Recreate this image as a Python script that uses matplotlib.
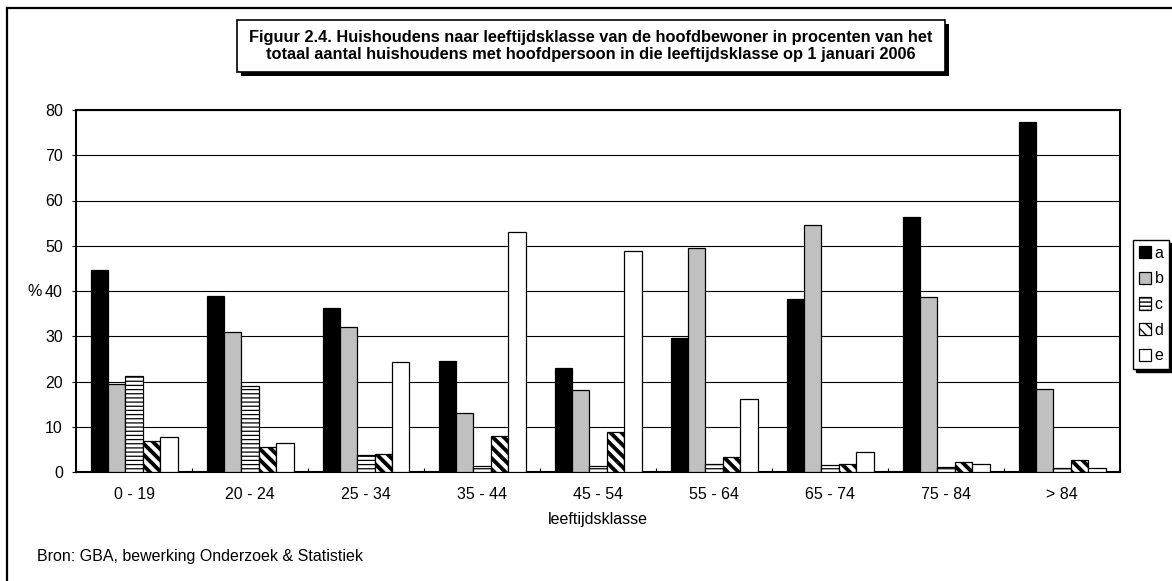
# Huishoudens naar leeftijdsklasse, 1 januari 2006
import numpy as np
import matplotlib
matplotlib.use("Agg")
import matplotlib.pyplot as plt
from matplotlib.patches import Rectangle
from matplotlib.lines import Line2D

plt.rcParams["font.family"] = ["Liberation Sans", "DejaVu Sans"]

categories = ["0 - 19", "20 - 24", "25 - 34", "35 - 44", "45 - 54",
              "55 - 64", "65 - 74", "75 - 84", "> 84"]
series_names = ["a", "b", "c", "d", "e"]
a = [44.6, 38.9, 36.2, 24.5, 23.0, 29.6, 38.2, 56.4, 77.3]
b = [19.5, 30.9, 32.0, 13.0, 18.1, 49.5, 54.6, 38.7, 18.3]
c = [21.2, 19.1, 3.8, 1.3, 1.3, 1.8, 1.5, 1.1, 0.9]
d = [6.8, 5.6, 4.0, 8.0, 8.8, 3.3, 1.8, 2.2, 2.7]
e = [7.8, 6.3, 24.3, 53.0, 48.8, 16.1, 4.4, 1.8, 0.9]

title = ("Figuur 2.4. Huishoudens naar leeftijdsklasse van de hoofdbewoner in procenten van het\n"
         "totaal aantal huishoudens met hoofdpersoon in die leeftijdsklasse op 1 januari 2006")
source = "Bron: GBA, bewerking Onderzoek & Statistiek"

W, H = 1172, 581


def fx(px):
    return px / W


def fy(py):
    return 1 - py / H


def main():
    fig = plt.figure(figsize=(W / 100, H / 100), dpi=100)
    ax = fig.add_axes([fx(76), fy(472), fx(1120) - fx(76), fy(110) - fy(472)])

    styles = [
        dict(color="black"),
        dict(color="#c0c0c0"),
        dict(color="white", hatch="----"),
        dict(color="white", hatch="\\\\\\"),
        dict(color="white"),
    ]
    hatch_lw = [1.0, 1.0, 0.9, 2.8, 1.0]

    x = np.arange(len(categories))
    width = 0.15
    handles = []
    for i, (vals, st) in enumerate(zip([a, b, c, d, e], styles)):
        plt.rcParams["hatch.linewidth"] = hatch_lw[i]
        bars = ax.bar(x + (i - 2) * width, vals, width, facecolor=st["color"],
                      edgecolor="black", linewidth=0.9, hatch=st.get("hatch"),
                      label=series_names[i], zorder=3)
        for p in bars:
            if hasattr(p, "set_hatch_linewidth"):
                p.set_hatch_linewidth(hatch_lw[i])
        handles.append(bars)

    ax.set_xlim(-0.5, len(categories) - 0.5)
    ax.set_ylim(0, 80)
    ax.set_yticks(range(0, 81, 10))
    ax.yaxis.grid(True, color="black", linewidth=0.8)
    ax.set_axisbelow(True)
    ax.set_xticks(x)
    ax.set_xticklabels(categories, fontsize=11.5)
    ax.set_xticks(np.arange(-0.5, len(categories), 1.0), minor=True)
    ax.tick_params(axis="x", which="both", direction="in", length=3,
                   width=0.8, pad=11)
    ax.tick_params(axis="y", direction="out", length=3, width=0.8,
                   labelsize=11.5, pad=6.5)
    for s in ax.spines.values():
        s.set_linewidth(1.5)
    ax.set_xlabel("leeftijdsklasse", fontsize=11.5, labelpad=7)

    fig.text(fx(27), fy(291), "%", fontsize=11.5, ha="left", va="center")
    fig.text(fx(37), fy(556), source, fontsize=11.5, ha="left", va="center")

    # outer frame (right and bottom edge fall outside the picture)
    fig.add_artist(Line2D([fx(7), fx(7)], [fy(8), fy(600)], color="black",
                          linewidth=1.6, transform=fig.transFigure))
    fig.add_artist(Line2D([fx(7), fx(1200)], [fy(8), fy(8)], color="black",
                          linewidth=1.6, transform=fig.transFigure))

    # title box with shadow
    bx0, by0, bx1, by1 = 237, 20, 945, 72
    fig.add_artist(Rectangle((fx(bx0 + 4), fy(by1 + 4)), fx(bx1 - bx0), fy(by0) - fy(by1),
                             transform=fig.transFigure, facecolor="black",
                             edgecolor="none"))
    fig.add_artist(Rectangle((fx(bx0), fy(by1)), fx(bx1 - bx0), fy(by0) - fy(by1),
                             transform=fig.transFigure, facecolor="white",
                             edgecolor="black", linewidth=1.2))
    fig.text(fx((bx0 + bx1) / 2), fy((by0 + by1) / 2), title, fontsize=11.8,
             fontweight="bold", ha="center", va="center", linespacing=1.15)

    leg = fig.legend(handles, series_names, loc="upper left",
                     bbox_to_anchor=(fx(1133), fy(240)), fontsize=11.5,
                     handlelength=0.8, handleheight=0.8, handletextpad=0.2,
                     borderpad=0.35, labelspacing=0.67, borderaxespad=0,
                     fancybox=False, edgecolor="black",
                     shadow={"color": "black", "alpha": 1.0})
    leg.get_frame().set_linewidth(1.0)

    fig.savefig("out.png", dpi=100)


if __name__ == "__main__":
    main()
